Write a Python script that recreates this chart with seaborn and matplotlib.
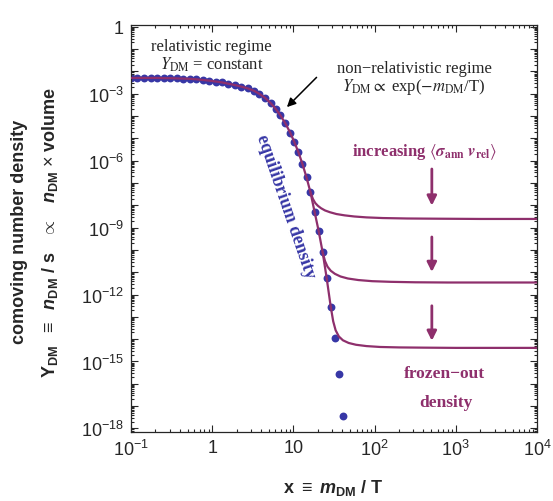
import numpy as np
import pandas as pd
import matplotlib
matplotlib.use("Agg")
import matplotlib.pyplot as plt
import seaborn as sns
from matplotlib.ticker import LogLocator, FuncFormatter, NullFormatter

# equilibrium density points (blue dots)
eq_x = [0.100, 0.120, 0.145, 0.174, 0.209, 0.251, 0.302, 0.363, 0.437, 0.525,
        0.631, 0.759, 0.912, 1.10, 1.32, 1.58, 1.91, 2.29, 2.75, 3.24,
        3.80, 4.47, 5.25, 6.03, 6.92, 7.94, 9.12, 10.2, 11.5, 12.9,
        14.5, 16.2, 18.2, 20.4, 22.9, 25.7, 28.8, 32.4, 36.3, 40.7]
eq_y = [5.13e-3, 5.13e-3, 5.13e-3, 5.13e-3, 5.13e-3, 5.01e-3, 5.01e-3, 4.90e-3, 4.79e-3, 4.68e-3,
        4.47e-3, 4.17e-3, 3.89e-3, 3.55e-3, 3.24e-3, 2.82e-3, 2.45e-3, 2.09e-3, 1.74e-3, 1.38e-3,
        1.00e-3, 6.61e-4, 3.80e-4, 2.14e-4, 1.07e-4, 4.79e-5, 1.82e-5, 7.24e-6, 2.45e-6, 7.24e-7,
        1.78e-7, 3.89e-8, 5.25e-9, 7.41e-10, 7.94e-11, 5.37e-12, 2.88e-13, 1.10e-14, 2.69e-16, 3.72e-18]

# freeze-out branches (purple curves), small -> large <sigma v>
top_x = [16.2, 17.4, 18.6, 20.0, 21.9, 24.5, 28.2, 33.9, 42.7, 56.2, 79.4, 126, 251, 631, 2000, 10000]
top_y = [3.89e-8, 1.91e-8, 1.26e-8, 9.55e-9, 7.41e-9, 5.89e-9, 4.90e-9, 4.07e-9, 3.55e-9, 3.16e-9,
         2.88e-9, 2.69e-9, 2.57e-9, 2.51e-9, 2.45e-9, 2.45e-9]
mid_x = [22.9, 24.5, 26.3, 28.8, 32.4, 38.0, 46.8, 63.1, 93.3, 158, 316, 794, 2510, 10000]
mid_y = [7.94e-11, 3.16e-11, 1.78e-11, 1.17e-11, 8.51e-12, 6.46e-12, 5.25e-12, 4.47e-12, 3.98e-12,
         3.72e-12, 3.55e-12, 3.47e-12, 3.47e-12, 3.47e-12]
low_x = [28.8, 30.9, 33.1, 36.3, 40.7, 47.9, 58.9, 79.4, 117, 200, 398, 1000, 3160, 10000]
low_y = [2.88e-13, 6.31e-14, 2.51e-14, 1.32e-14, 8.91e-15, 6.76e-15, 5.62e-15, 4.90e-15, 4.47e-15,
         4.27e-15, 4.17e-15, 4.07e-15, 4.07e-15, 4.07e-15]

purple = '#8E2F6C'
blue = '#3737A6'

sns.set_style('ticks')
plt.rcParams['font.family'] = ['Liberation Sans', 'DejaVu Sans']
plt.rcParams['mathtext.fontset'] = 'custom'
plt.rcParams['mathtext.rm'] = 'Liberation Sans'
plt.rcParams['mathtext.it'] = 'Liberation Sans:italic'
plt.rcParams['mathtext.bf'] = 'Liberation Sans:bold'
plt.rcParams['mathtext.bfit'] = 'Liberation Sans:bold:italic'

fig = plt.figure(figsize=(5.53, 5.02), dpi=100)
ax = fig.add_axes([0.237, 0.1375, 0.734, 0.811])

dots = pd.DataFrame({'x': eq_x, 'y': eq_y})
sns.scatterplot(data=dots, x='x', y='y', ax=ax, color=blue, s=32, linewidth=0, zorder=2)

# equilibrium line runs through the dots until the last branch leaves it
eq_line = dots[dots['x'] <= 28.8]
sns.lineplot(data=eq_line, x='x', y='y', ax=ax, color=purple, lw=1.6, estimator=None, sort=False, zorder=3)
for bx, by in [(top_x, top_y), (mid_x, mid_y), (low_x, low_y)]:
    sns.lineplot(x=bx, y=by, ax=ax, color=purple, lw=1.6, estimator=None, sort=False, zorder=3)

ax.set_xscale('log')
ax.set_yscale('log')
ax.set_xlim(0.1, 1e4)
ax.set_ylim(10 ** -18.16, 10 ** 0.09)


def xfmt(v, pos):
    e = int(round(np.log10(v)))
    if e == 0:
        return '1'
    if e == 1:
        return '10'
    return r'$10^{%d}$' % e


def yfmt(v, pos):
    e = int(round(np.log10(v)))
    if e % 3 != 0:
        return ''
    if e == 0:
        return '1'
    return r'$10^{%d}$' % e


ax.xaxis.set_major_locator(LogLocator(base=10, numticks=20))
ax.xaxis.set_minor_locator(LogLocator(base=10, subs=np.arange(2, 10), numticks=20))
ax.xaxis.set_major_formatter(FuncFormatter(xfmt))
ax.xaxis.set_minor_formatter(NullFormatter())
ax.yaxis.set_major_locator(LogLocator(base=10, numticks=30))
ax.yaxis.set_minor_locator(LogLocator(base=10, subs=np.arange(2, 10), numticks=30))
ax.yaxis.set_major_formatter(FuncFormatter(yfmt))
ax.yaxis.set_minor_formatter(NullFormatter())
ax.tick_params(which='both', direction='in', top=True, right=True, labelsize=13, width=0.8)
ax.tick_params(which='major', length=5, pad=5)
ax.tick_params(which='minor', length=2.5)
for sp in ax.spines.values():
    sp.set_linewidth(0.9)
ax.set_xlabel('')
ax.set_ylabel('')

# axis labels
fig.text(333 / 553, 1 - 488 / 502, r'x $\equiv$ $\mathbfit{m}_{\mathbf{DM}}$ / T',
         ha='center', va='center', fontsize=13, fontweight='bold')
fig.text(20 / 553, 1 - 232 / 502, 'comoving number density', rotation=90,
         ha='center', va='center', fontsize=13, fontweight='bold')
fig.text(50 / 553, 1 - 232 / 502,
         r'$\mathbf{Y}_{\mathbf{DM}}$  $\equiv$  $\mathbfit{n}_{\mathbf{DM}}$ / s   $\propto$   $\mathbfit{n}_{\mathbf{DM}}$ $\times$ volume',
         rotation=90, ha='center', va='center', fontsize=13, fontweight='bold')

serif = ['Liberation Serif', 'DejaVu Serif']
tr = ax.transAxes
ax.text(0.197, 0.949, 'relativistic regime', transform=tr, ha='center', va='center',
        fontsize=12, family=serif)
ax.text(0.2, 0.904, r'$Y_{\rm DM}$ = constant', transform=tr, ha='center', va='center',
        fontsize=12, family=serif, math_fontfamily='stix')
ax.text(0.697, 0.894, 'non\u2212relativistic regime', transform=tr, ha='center', va='center',
        fontsize=12, family=serif)
ax.text(0.697, 0.851, r'$Y_{\rm DM}\propto$ exp($-m_{\rm DM}$/T)', transform=tr, ha='center',
        va='center', fontsize=12, family=serif, math_fontfamily='stix')
ax.text(0.724, 0.691,
        r'increasing $\langle\mathbfit{\sigma}_{\mathbf{ann}}\ \mathbfit{v}_{\mathbf{rel}}\rangle$',
        transform=tr, ha='center', va='center', fontsize=12, family=serif, fontweight='bold',
        color=purple, math_fontfamily='stix')
ax.text(0.381, 0.556, 'equilibrium density', transform=tr, ha='center', va='center',
        rotation=-71, rotation_mode='anchor', fontsize=13, family=serif, fontweight='bold',
        color=blue)
ax.text(0.771, 0.145, 'frozen\u2212out', transform=tr, ha='center', va='center',
        fontsize=12.5, family=serif, fontweight='bold', color=purple)
ax.text(0.776, 0.074, 'density', transform=tr, ha='center', va='center',
        fontsize=12.5, family=serif, fontweight='bold', color=purple)

# arrows
for y0, y1 in [(0.646, 0.556), (0.479, 0.393), (0.310, 0.224)]:
    ax.annotate('', xy=(0.741, y1), xytext=(0.741, y0), xycoords=tr, textcoords=tr,
                arrowprops=dict(arrowstyle='-|>', color=purple, lw=2, mutation_scale=14,
                                shrinkA=0, shrinkB=0))
ax.annotate('', xy=(0.384, 0.798), xytext=(0.457, 0.871), xycoords=tr, textcoords=tr,
            arrowprops=dict(arrowstyle='-|>', color='black', lw=1.1, mutation_scale=13,
                            shrinkA=0, shrinkB=0))

fig.savefig('out.png', dpi=100)
